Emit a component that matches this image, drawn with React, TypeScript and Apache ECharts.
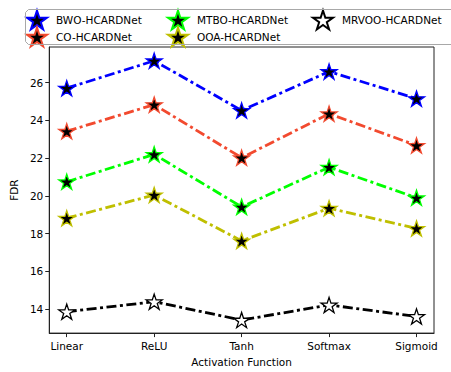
import React, { useEffect, useRef } from "react";
import * as echarts from "echarts";

const categories = ["Linear", "ReLU", "Tanh", "Softmax", "Sigmoid"];
const seriesNames = ["BWO-HCARDNet", "CO-HCARDNet", "MTBO-HCARDNet", "OOA-HCARDNet", "MRVOO-HCARDNet"];
const bwo = [25.7, 27.15, 24.52, 26.58, 25.15];
const co = [23.42, 24.83, 22.02, 24.35, 22.67];
const mtbo = [20.75, 22.2, 19.42, 21.52, 19.9];
const ooa = [18.82, 20.05, 17.62, 19.35, 18.28];
const mrvoo = [13.87, 14.4, 13.43, 14.23, 13.62];
const yTicks = [14, 16, 18, 20, 22, 24, 26];

const lineColors = ["#0000ff", "#f24a2f", "#00ff00", "#bfbf00", "#000000"];
const fillColors = ["#000000", "#000000", "#000000", "#000000", "#ffffff"];

const STAR =
  "path://M50,0 L61.23,34.55 L97.55,34.55 L68.16,55.9 L79.39,90.45 L50,69.1 L20.61,90.45 L31.84,55.9 L2.45,34.55 L38.77,34.55 Z";

const FONT = "DejaVu Sans";

export default function App() {
  const ref = useRef<HTMLDivElement>(null);
  useEffect(() => {
    document.body.style.margin = "0";
    if (!ref.current) return;
    const chart = echarts.init(ref.current, undefined, { renderer: "svg" });
    const all = [bwo, co, mtbo, ooa, mrvoo];
    const series = all.map((vals, i) => ({
      name: seriesNames[i],
      type: "line",
      data: vals.map((v, j) => [j, v]),
      symbol: STAR,
      symbolSize: 16,
      symbolKeepAspect: true,
      lineStyle: { color: lineColors[i], width: 2.8, type: [10, 3.5, 3, 3.5] },
      itemStyle: { color: fillColors[i], borderColor: lineColors[i], borderWidth: 1.3 },
      z: 2 + i,
    }));
    const legendCommon = {
      orient: "vertical",
      icon: STAR,
      itemWidth: 28,
      itemHeight: 19,
      itemGap: -4,
      symbolKeepAspect: true,
      textStyle: { fontFamily: FONT, fontSize: 10.5, color: "#000" },
      selectedMode: false,
      padding: 0,
      z: 10,
    };
    chart.setOption({
      animation: false,
      graphic: [
        {
          type: "polyline",
          silent: true,
          z: 20,
          shape: {
            points: [
              [451, 9.5],
              [28.5, 9.5],
              [25.5, 12.5],
              [25.5, 41.5],
              [28.5, 44.5],
              [451, 44.5],
            ],
          },
          style: { stroke: "#a8a8a8", lineWidth: 1, fill: null },
        },
      ],
      legend: [
        { ...legendCommon, left: 26, top: 9.5, data: [seriesNames[0], seriesNames[1]] },
        { ...legendCommon, left: 167, top: 9.5, data: [seriesNames[2], seriesNames[3]] },
        { ...legendCommon, left: 312, top: 9.5, data: [seriesNames[4]] },
      ],
      grid: {
        left: 46,
        right: 17,
        top: 47,
        bottom: 37,
        show: true,
        borderColor: "#222",
        borderWidth: 1,
        backgroundColor: "transparent",
      },
      xAxis: {
        type: "value",
        min: -0.2,
        max: 4.2,
        name: "Activation Function",
        nameLocation: "middle",
        nameGap: 21,
        nameTextStyle: { fontFamily: FONT, fontSize: 10.5, color: "#000" },
        axisLine: { show: true, onZero: false, lineStyle: { color: "#222" } },
        axisTick: { show: true, customValues: [0, 1, 2, 3, 4], length: 4, lineStyle: { color: "#222" } },
        axisLabel: {
          customValues: [0, 1, 2, 3, 4],
          formatter: (v: number) => categories[Math.round(v)] ?? "",
          fontFamily: FONT,
          fontSize: 10.5,
          color: "#000",
          margin: 7,
        },
        splitLine: { show: false },
      },
      yAxis: {
        type: "value",
        min: 12.74,
        max: 27.88,
        name: "FDR",
        nameLocation: "middle",
        nameGap: 30,
        nameTextStyle: { fontFamily: FONT, fontSize: 10.5, color: "#000" },
        axisLine: { show: true, onZero: false, lineStyle: { color: "#222" } },
        axisTick: { show: true, customValues: yTicks, length: 4, lineStyle: { color: "#222" } },
        axisLabel: {
          customValues: yTicks,
          fontFamily: FONT,
          fontSize: 10.5,
          color: "#000",
          margin: 6,
        },
        splitLine: { show: false },
      },
      series,
    });
    return () => chart.dispose();
  }, []);
  return <div ref={ref} style={{ width: 451, height: 372 }} />;
}
